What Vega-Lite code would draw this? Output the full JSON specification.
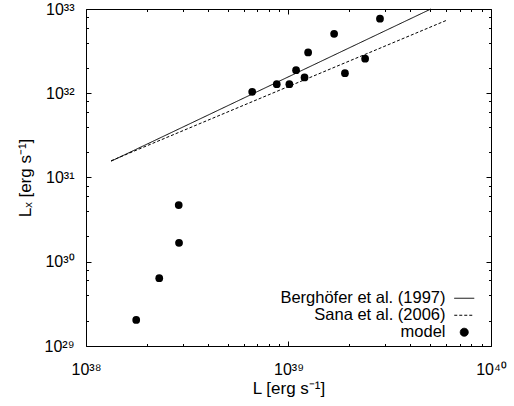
{
  "$schema": "https://vega.github.io/schema/vega-lite/v6.json",
  "width": 405,
  "height": 337,
  "autosize": {"type": "none"},
  "padding": {"left": 86, "top": 9, "right": 23, "bottom": 60},
  "background": "white",
  "config": {
    "view": {"stroke": "black", "strokeWidth": 1},
    "font": "Liberation Sans",
    "axis": {
      "labelFont": "Liberation Sans", "labelFontSize": 16, "labelColor": "black",
      "titleFont": "Liberation Sans", "titleFontSize": 17, "titleFontWeight": "normal", "titleColor": "black",
      "tickColor": "black", "tickWidth": 1, "domain": false, "grid": false,
      "labelFlush": false, "labelOverlap": false
    }
  },
  "datasets": {
    "model": [
      {"L": 6.62e38, "Lx": 1.04e32},
      {"L": 8.75e38, "Lx": 1.28e32},
      {"L": 1.01e39, "Lx": 1.28e32},
      {"L": 1.09e39, "Lx": 1.88e32},
      {"L": 1.20e39, "Lx": 1.54e32},
      {"L": 1.25e39, "Lx": 3.05e32},
      {"L": 1.68e39, "Lx": 5.08e32},
      {"L": 1.90e39, "Lx": 1.73e32},
      {"L": 2.39e39, "Lx": 2.57e32},
      {"L": 2.83e39, "Lx": 7.67e32},
      {"L": 2.87e38, "Lx": 4.71e30},
      {"L": 2.88e38, "Lx": 1.68e30},
      {"L": 2.30e38, "Lx": 6.38e29},
      {"L": 1.77e38, "Lx": 2.04e29}
    ],
    "fits": [
      {"series": "Berghöfer et al. (1997)", "L": 1.33e38, "Lx": 1.56e31},
      {"series": "Berghöfer et al. (1997)", "L": 5.05e39, "Lx": 1e33},
      {"series": "Sana et al. (2006)", "L": 1.33e38, "Lx": 1.58e31},
      {"series": "Sana et al. (2006)", "L": 6.0e39, "Lx": 7.3e32}
    ]
  },
  "resolve": {"axis": {"x": "independent", "y": "independent"}},
  "layer": [
    {
      "data": {"name": "fits"},
      "mark": {"type": "line", "color": "black", "strokeWidth": 1},
      "encoding": {
        "x": {
          "field": "L", "type": "quantitative",
          "scale": {"type": "log", "domain": [1e38, 1e40], "nice": false},
          "axis": {
            "orient": "bottom", "values": [1e38, 1e39, 1e40], "tickSize": -5, "labelPadding": 20,
            "labelExpr": "datum.value < 5e38 ? '10³⁸' : datum.value < 5e39 ? '10³⁹' : '10⁴⁰'",
            "title": "L [erg s⁻¹]", "titlePadding": 3
          }
        },
        "y": {
          "field": "Lx", "type": "quantitative",
          "scale": {"type": "log", "domain": [1e29, 1e33], "nice": false},
          "axis": {
            "orient": "left", "values": [1e29, 1e30, 1e31, 1e32, 1e33], "tickSize": -5, "labelPadding": 17,
            "labelExpr": "datum.value < 5e29 ? '10²⁹' : datum.value < 5e30 ? '10³⁰' : datum.value < 5e31 ? '10³¹' : datum.value < 5e32 ? '10³²' : '10³³'",
            "title": "Lₓ [erg s⁻¹]", "titlePadding": 10
          }
        },
        "strokeDash": {
          "field": "series", "type": "nominal",
          "scale": {
            "domain": ["Berghöfer et al. (1997)", "Sana et al. (2006)", "model"],
            "range": [[1, 0], [3, 2], [1, 0]]
          },
          "legend": {
            "title": null, "orient": "none", "legendX": 370, "legendY": 281,
            "labelAlign": "right", "labelOffset": -27, "labelFontSize": 16.5,
            "labelFont": "Liberation Sans", "labelColor": "black", "labelLimit": 400,
            "symbolSize": 64, "symbolStrokeColor": "black", "symbolStrokeWidth": 1,
            "rowPadding": -1, "padding": 0,
            "encode": {
              "symbols": {
                "update": {
                  "shape": {"signal": "datum.value === 'model' ? 'circle' : 'M-2.5,0H2.5'"},
                  "fill": {"signal": "datum.value === 'model' ? 'black' : 'transparent'"},
                  "stroke": {"value": "black"}
                }
              }
            }
          }
        }
      }
    },
    {
      "data": {"name": "model"},
      "mark": {"type": "point", "shape": "circle", "filled": true, "color": "black", "size": 60, "opacity": 1},
      "encoding": {
        "x": {
          "field": "L", "type": "quantitative",
          "scale": {"type": "log", "domain": [1e38, 1e40], "nice": false},
          "axis": {
            "orient": "bottom", "labels": false, "title": null, "tickSize": -2.5,
            "values": [2e38, 3e38, 4e38, 5e38, 6e38, 7e38, 8e38, 9e38, 2e39, 3e39, 4e39, 5e39, 6e39, 7e39, 8e39, 9e39]
          }
        },
        "y": {
          "field": "Lx", "type": "quantitative",
          "scale": {"type": "log", "domain": [1e29, 1e33], "nice": false},
          "axis": {
            "orient": "left", "labels": false, "title": null, "tickSize": -2.5,
            "values": [2e29, 4e29, 6e29, 8e29, 2e30, 4e30, 6e30, 8e30, 2e31, 4e31, 6e31, 8e31, 2e32, 4e32, 6e32, 8e32]
          }
        }
      }
    },
    {
      "data": {"name": "model"},
      "mark": {"type": "point", "opacity": 0},
      "encoding": {
        "x": {
          "field": "L", "type": "quantitative",
          "scale": {"type": "log", "domain": [1e38, 1e40], "nice": false},
          "axis": {"orient": "top", "labels": false, "title": null, "tickSize": -5, "values": [1e38, 1e39, 1e40]}
        },
        "y": {
          "field": "Lx", "type": "quantitative",
          "scale": {"type": "log", "domain": [1e29, 1e33], "nice": false},
          "axis": {"orient": "right", "labels": false, "title": null, "tickSize": -5, "values": [1e29, 1e30, 1e31, 1e32, 1e33]}
        }
      }
    },
    {
      "data": {"name": "model"},
      "mark": {"type": "point", "opacity": 0},
      "encoding": {
        "x": {
          "field": "L", "type": "quantitative",
          "scale": {"type": "log", "domain": [1e38, 1e40], "nice": false},
          "axis": {
            "orient": "top", "labels": false, "title": null, "tickSize": -2.5,
            "values": [2e38, 3e38, 4e38, 5e38, 6e38, 7e38, 8e38, 9e38, 2e39, 3e39, 4e39, 5e39, 6e39, 7e39, 8e39, 9e39]
          }
        },
        "y": {
          "field": "Lx", "type": "quantitative",
          "scale": {"type": "log", "domain": [1e29, 1e33], "nice": false},
          "axis": {
            "orient": "right", "labels": false, "title": null, "tickSize": -2.5,
            "values": [2e29, 4e29, 6e29, 8e29, 2e30, 4e30, 6e30, 8e30, 2e31, 4e31, 6e31, 8e31, 2e32, 4e32, 6e32, 8e32]
          }
        }
      }
    }
  ]
}
